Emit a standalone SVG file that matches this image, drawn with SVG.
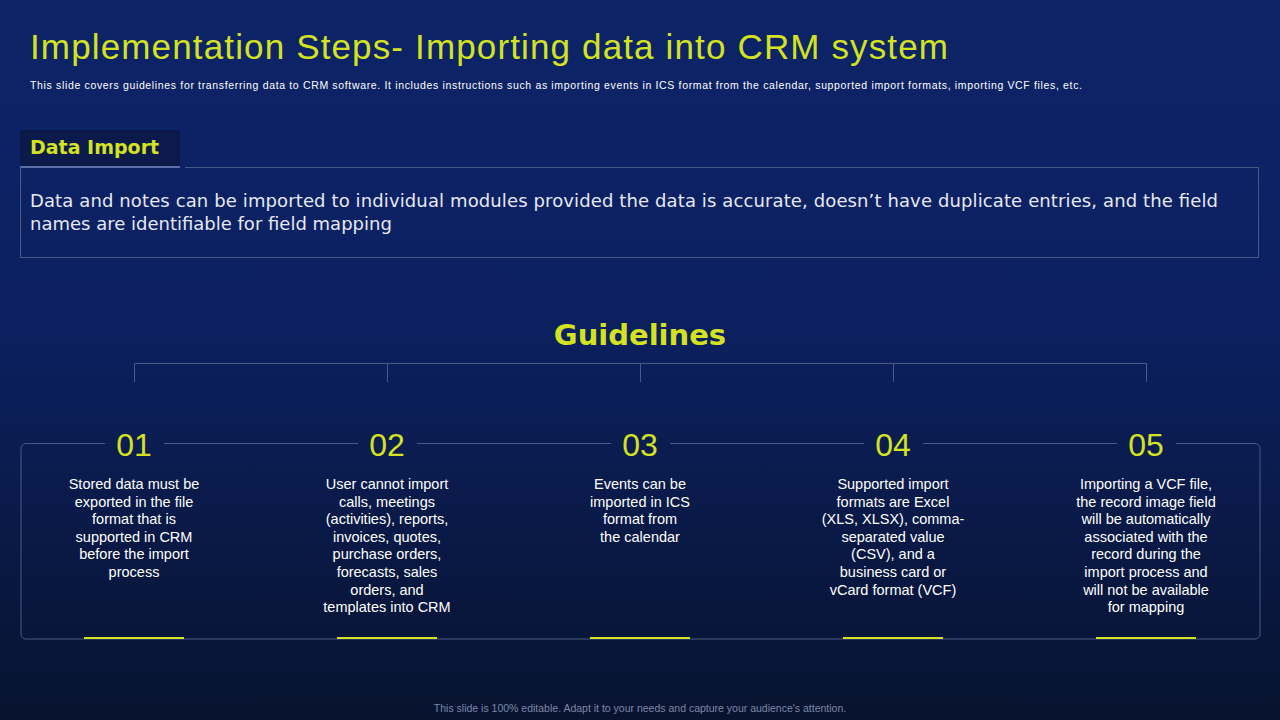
<svg xmlns="http://www.w3.org/2000/svg" width="1280" height="720" viewBox="0 0 1280 720">
<defs>
<linearGradient id="bg" x1="0" y1="0" x2="0" y2="1">
<stop offset="0" stop-color="#0d2468"/><stop offset="0.45" stop-color="#0c2060"/><stop offset="1" stop-color="#07132f"/>
</linearGradient>
<style>
.num{font-family:"Liberation Sans",Arial,sans-serif;font-size:32px;fill:#d4e21f;text-anchor:middle}
.body{font-family:"Liberation Sans",Arial,sans-serif;font-size:14.5px;fill:#ffffff;text-anchor:middle}
.ln{stroke:#4a5a86;stroke-width:1;fill:none}
.bar{stroke:#d4e21f;stroke-width:2}
</style>
</defs>
<rect width="1280" height="720" fill="url(#bg)"/>
<text x="30" y="59" font-family="Century Gothic,'URW Gothic','Liberation Sans',sans-serif" font-size="35" fill="#d4e21f" textLength="918" lengthAdjust="spacing">Implementation  Steps- Importing data into CRM system</text>
<text x="30" y="89" font-family="'Liberation Sans',Arial,sans-serif" font-size="10.5" fill="#ffffff" textLength="1052" lengthAdjust="spacing">This slide covers guidelines for transferring data to CRM software. It includes instructions such as importing events in ICS format from the calendar, supported import formats, importing VCF files, etc.</text>
<g id="data-import">
<rect x="20" y="130" width="160" height="36" rx="3" fill="#0b1a4a"/>
<text x="30" y="154" font-family="Verdana,'DejaVu Sans',sans-serif" font-weight="bold" font-size="19" fill="#d4e21f">Data Import</text>
<line x1="20" y1="167" x2="180" y2="167" stroke="#5a6ea8" stroke-width="2"/>
<path class="ln" d="M185 167.5 H1258.5 V257.5 H20.5 V167"/>
<text font-family="'URW Gothic','Century Gothic','DejaVu Sans',sans-serif" font-size="18" fill="#e6e8f2"><tspan x="30" y="207" textLength="1188" lengthAdjust="spacing">Data and notes can be imported to individual modules provided the data is accurate, doesn’t have duplicate entries, and the field</tspan><tspan x="30" y="230">names are identifiable for field mapping</tspan></text>
</g>
<text x="640" y="345" font-family="Verdana,'DejaVu Sans',sans-serif" font-weight="bold" font-size="29" fill="#d4e21f" text-anchor="middle">Guidelines</text>
<g id="connectors" class="ln">
<path d="M134.5 382 V363.5 H1146.5 V382 M387.5 363.5 V382 M640.5 363.5 V382 M893.5 363.5 V382"/>
<path d="M105 443.5 H26 a5 5 0 0 0 -5 5 V634 a5 5 0 0 0 5 5 H1255 a5 5 0 0 0 5 -5 V448.5 a5 5 0 0 0 -5 -5 H1176 M164 443.5 H358 M417 443.5 H611 M670 443.5 H864 M923 443.5 H1117"/>
</g>
<g id="step1"><text class="num" x="134" y="456">01</text>
<text class="body"><tspan x="134" y="489">Stored data must be</tspan><tspan x="134" y="507">exported in the file</tspan><tspan x="134" y="524">format that is</tspan><tspan x="134" y="542">supported in CRM</tspan><tspan x="134" y="559">before the import</tspan><tspan x="134" y="577">process</tspan></text>
<line class="bar" x1="84" y1="638" x2="184" y2="638"/></g>
<g id="step2"><text class="num" x="387" y="456">02</text>
<text class="body"><tspan x="387" y="489">User cannot import</tspan><tspan x="387" y="507">calls, meetings</tspan><tspan x="387" y="524">(activities), reports,</tspan><tspan x="387" y="542">invoices, quotes,</tspan><tspan x="387" y="559">purchase orders,</tspan><tspan x="387" y="577">forecasts, sales</tspan><tspan x="387" y="595">orders, and</tspan><tspan x="387" y="612">templates into CRM</tspan></text>
<line class="bar" x1="337" y1="638" x2="437" y2="638"/></g>
<g id="step3"><text class="num" x="640" y="456">03</text>
<text class="body"><tspan x="640" y="489">Events can be</tspan><tspan x="640" y="507">imported in ICS</tspan><tspan x="640" y="524">format from</tspan><tspan x="640" y="542">the calendar</tspan></text>
<line class="bar" x1="590" y1="638" x2="690" y2="638"/></g>
<g id="step4"><text class="num" x="893" y="456">04</text>
<text class="body"><tspan x="893" y="489">Supported import</tspan><tspan x="893" y="507">formats are  Excel</tspan><tspan x="893" y="524">(XLS, XLSX), comma-</tspan><tspan x="893" y="542">separated value</tspan><tspan x="893" y="559">(CSV), and a</tspan><tspan x="893" y="577">business card or</tspan><tspan x="893" y="595">vCard  format (VCF)</tspan></text>
<line class="bar" x1="843" y1="638" x2="943" y2="638"/></g>
<g id="step5"><text class="num" x="1146" y="456">05</text>
<text class="body"><tspan x="1146" y="489">Importing a VCF file,</tspan><tspan x="1146" y="507">the record image field</tspan><tspan x="1146" y="524">will be automatically</tspan><tspan x="1146" y="542">associated with the</tspan><tspan x="1146" y="559">record during the</tspan><tspan x="1146" y="577">import process and</tspan><tspan x="1146" y="595">will not be available</tspan><tspan x="1146" y="612">for mapping</tspan></text>
<line class="bar" x1="1096" y1="638" x2="1196" y2="638"/></g>
<text x="640" y="712" font-family="'Liberation Sans',Arial,sans-serif" font-size="10.5" fill="#7d88a8" text-anchor="middle">This slide is 100% editable. Adapt it to your needs and capture your audience's attention.</text>
</svg>
